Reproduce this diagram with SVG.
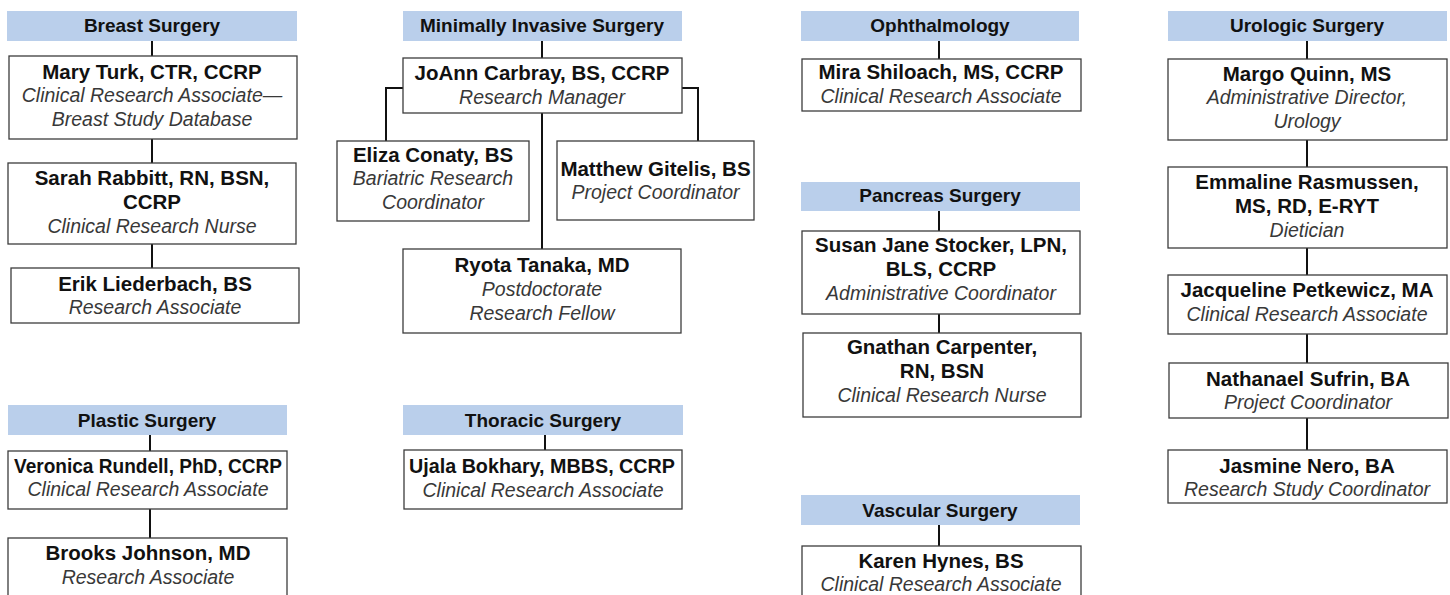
<svg xmlns="http://www.w3.org/2000/svg" width="1450" height="595" viewBox="0 0 1450 595">
<style>
.hdr{fill:#bacfeb}
.box{fill:#fff;stroke:#3c3c3c;stroke-width:1.3}
.ht{font-family:"Liberation Sans",Arial,Helvetica,sans-serif;font-weight:bold;font-size:19px;fill:#111;text-anchor:middle}
.nm{font-family:"Liberation Sans",Arial,Helvetica,sans-serif;font-weight:bold;font-size:20.5px;fill:#111;text-anchor:middle}
.rl{font-family:"Liberation Sans",Arial,Helvetica,sans-serif;font-style:italic;font-size:19.5px;fill:#383838;text-anchor:middle}
.cn{fill:none;stroke:#111;stroke-width:2}
</style>
<rect width="1450" height="595" fill="#fff"/>
<g id="connectors">
<path class="cn" d="M152 41V56M152 139V163M152 244V268"/>
<path class="cn" d="M542 41V58M542 113V249M403 88H386V141M682 88H698V141"/>
<path class="cn" d="M939 41V59M939 211V231M939 314V333M939 525V546"/>
<path class="cn" d="M1307 41V59M1307 140V167M1307 248V275M1307 334V363M1307 418V450"/>
<path class="cn" d="M150 435V451M150 509V538"/>
<path class="cn" d="M545 435V450"/>
</g>
<g id="h-breast"><rect class="hdr" x="7" y="11" width="290" height="30"/><text class="ht" x="152" y="32">Breast Surgery</text></g>
<g id="n-turk"><rect class="box" x="9" y="56" width="288" height="83"/><text class="nm" x="152" y="79">Mary Turk, CTR, CCRP</text><text class="rl" x="152" y="102">Clinical Research Associate—</text><text class="rl" x="152" y="126">Breast Study Database</text></g>
<g id="n-rabbitt"><rect class="box" x="8" y="163" width="288" height="81"/><text class="nm" x="152" y="185">Sarah Rabbitt, RN, BSN,</text><text class="nm" x="152" y="209">CCRP</text><text class="rl" x="152" y="233">Clinical Research Nurse</text></g>
<g id="n-liederbach"><rect class="box" x="11" y="268" width="288" height="55"/><text class="nm" x="155" y="291">Erik Liederbach, BS</text><text class="rl" x="155" y="314">Research Associate</text></g>

<g id="h-mis"><rect class="hdr" x="403" y="11" width="279" height="30"/><text class="ht" x="542" y="32">Minimally Invasive Surgery</text></g>
<g id="n-carbray"><rect class="box" x="403" y="58" width="279" height="55"/><text class="nm" x="542" y="80">JoAnn Carbray, BS, CCRP</text><text class="rl" x="542" y="104">Research Manager</text></g>
<g id="n-conaty"><rect class="box" x="337" y="141" width="192" height="80"/><text class="nm" x="433" y="162">Eliza Conaty, BS</text><text class="rl" x="433" y="185">Bariatric Research</text><text class="rl" x="433" y="209">Coordinator</text></g>
<g id="n-gitelis"><rect class="box" x="557" y="141" width="197" height="79"/><text class="nm" x="655.5" y="176">Matthew Gitelis, BS</text><text class="rl" x="655.5" y="199">Project Coordinator</text></g>
<g id="n-tanaka"><rect class="box" x="403" y="249" width="278" height="84"/><text class="nm" x="542" y="272">Ryota Tanaka, MD</text><text class="rl" x="542" y="296">Postdoctorate</text><text class="rl" x="542" y="320">Research Fellow</text></g>

<g id="h-ophth"><rect class="hdr" x="801" y="11" width="278" height="30"/><text class="ht" x="940" y="32">Ophthalmology</text></g>
<g id="n-shiloach"><rect class="box" x="802" y="59" width="279" height="52"/><text class="nm" x="941" y="79">Mira Shiloach, MS, CCRP</text><text class="rl" x="941" y="103">Clinical Research Associate</text></g>

<g id="h-pancreas"><rect class="hdr" x="801" y="182" width="279" height="29"/><text class="ht" x="940" y="202">Pancreas Surgery</text></g>
<g id="n-stocker"><rect class="box" x="802" y="231" width="278" height="83"/><text class="nm" x="941" y="252">Susan Jane Stocker, LPN,</text><text class="nm" x="941" y="276">BLS, CCRP</text><text class="rl" x="941" y="300">Administrative Coordinator</text></g>
<g id="n-carpenter"><rect class="box" x="803" y="333" width="278" height="84"/><text class="nm" x="942" y="354">Gnathan Carpenter,</text><text class="nm" x="942" y="378">RN, BSN</text><text class="rl" x="942" y="402">Clinical Research Nurse</text></g>

<g id="h-vascular"><rect class="hdr" x="801" y="495" width="279" height="30"/><text class="ht" x="940" y="517">Vascular Surgery</text></g>
<g id="n-hynes"><rect class="box" x="802" y="546" width="279" height="60"/><text class="nm" x="941" y="568">Karen Hynes, BS</text><text class="rl" x="941" y="591">Clinical Research Associate</text></g>

<g id="h-uro"><rect class="hdr" x="1168" y="11" width="279" height="30"/><text class="ht" x="1307" y="32">Urologic Surgery</text></g>
<g id="n-quinn"><rect class="box" x="1168" y="59" width="279" height="81"/><text class="nm" x="1307" y="81">Margo Quinn, MS</text><text class="rl" x="1307" y="104">Administrative Director,</text><text class="rl" x="1307" y="128">Urology</text></g>
<g id="n-rasmussen"><rect class="box" x="1168" y="167" width="279" height="81"/><text class="nm" x="1307" y="189">Emmaline Rasmussen,</text><text class="nm" x="1307" y="213">MS, RD, E-RYT</text><text class="rl" x="1307" y="237">Dietician</text></g>
<g id="n-petkewicz"><rect class="box" x="1168" y="275" width="279" height="59"/><text class="nm" x="1307" y="297">Jacqueline Petkewicz, MA</text><text class="rl" x="1307" y="321">Clinical Research Associate</text></g>
<g id="n-sufrin"><rect class="box" x="1169" y="363" width="279" height="55"/><text class="nm" x="1308" y="386">Nathanael Sufrin, BA</text><text class="rl" x="1308" y="409">Project Coordinator</text></g>
<g id="n-nero"><rect class="box" x="1168" y="450" width="279" height="53"/><text class="nm" x="1307" y="473">Jasmine Nero, BA</text><text class="rl" x="1307" y="496">Research Study Coordinator</text></g>

<g id="h-plastic"><rect class="hdr" x="8" y="405" width="279" height="30"/><text class="ht" x="147" y="427">Plastic Surgery</text></g>
<g id="n-rundell"><rect class="box" x="8" y="451" width="279" height="58"/><text class="nm" x="148" y="473" textLength="268" lengthAdjust="spacingAndGlyphs">Veronica Rundell, PhD, CCRP</text><text class="rl" x="148" y="496">Clinical Research Associate</text></g>
<g id="n-johnson"><rect class="box" x="8" y="538" width="279" height="70"/><text class="nm" x="148" y="560">Brooks Johnson, MD</text><text class="rl" x="148" y="584">Research Associate</text></g>

<g id="h-thoracic"><rect class="hdr" x="403" y="405" width="280" height="30"/><text class="ht" x="543" y="427">Thoracic Surgery</text></g>
<g id="n-bokhary"><rect class="box" x="404" y="450" width="278" height="59"/><text class="nm" x="542" y="473" textLength="266" lengthAdjust="spacingAndGlyphs">Ujala Bokhary, MBBS, CCRP</text><text class="rl" x="543" y="497">Clinical Research Associate</text></g>
</svg>
